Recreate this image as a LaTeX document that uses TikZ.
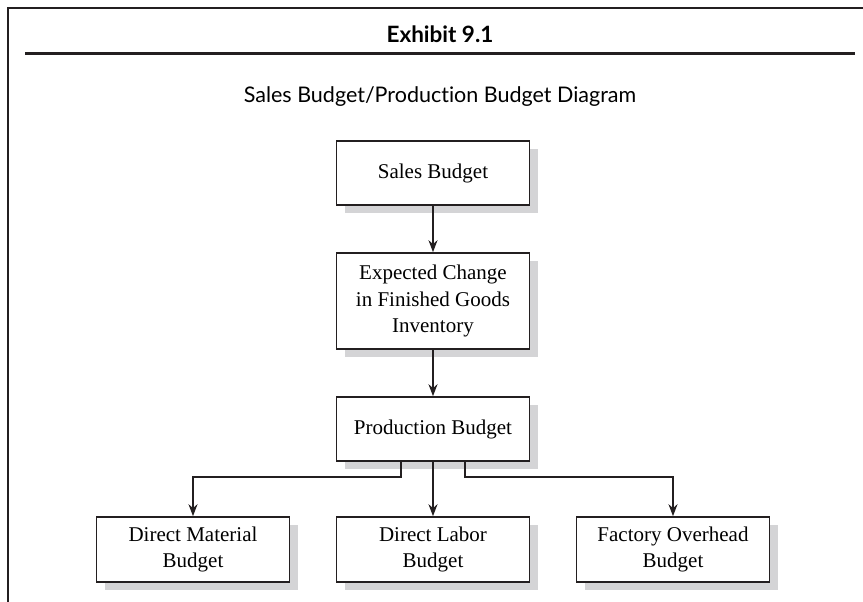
\documentclass[tikz,border=0pt]{standalone}
\usepackage{fontspec}
\setmainfont{Liberation Serif}
\newfontfamily\headfont{Lato}[Ligatures=NoCommon]
\usetikzlibrary{positioning,arrows.meta,shadows}

\definecolor{shadegray}{RGB}{212,212,214}
\definecolor{inkgray}{RGB}{35,31,32}

\tikzset{
  budget/.style={draw=inkgray, line width=1.6pt, fill=white, align=center,
    minimum width=193pt, minimum height=64pt, inner sep=0pt,
    font=\fontsize{21}{26.5}\selectfont,
    drop shadow={shadow xshift=8pt, shadow yshift=-8pt, fill=shadegray, opacity=1}},
  flow/.style={draw=inkgray, line width=1.6pt, -{Stealth[length=12pt,width=9pt]}}
}

\begin{document}
\begin{tikzpicture}[x=1pt, y=-1pt]
\useasboundingbox (0,0) rectangle (863,602);

% Frame and heading
\draw[inkgray, line width=1.4pt] (8,602) -- (8,8) -- (863,8);
\draw[inkgray, line width=3pt] (25,54) -- (855,54);
\node[anchor=base, font=\headfont\bfseries\fontsize{22.5}{26}\selectfont] (exhibit) at (440,42.3) {Exhibit 9.1};
\node[anchor=base, font=\headfont\fontsize{21.5}{25}\selectfont] (title) at (440,102.3) {Sales Budget/Production Budget Diagram};

% Create the main column
\node[budget] (sales) at (433,173) {Sales Budget};
\node[budget, minimum height=96pt] (change) at (433,301) {Expected Change\\in Finished Goods\\Inventory};
\node[budget] (prod) at (433,429) {Production Budget};

% Create the bottom row
\foreach \n/\l [count=\i from 0] in {matl/Direct Material\\Budget, labor/Direct Labor\\Budget, ovhd/Factory Overhead\\Budget}
  \node[budget, minimum height=65pt] (\n) at (193+\i*240,549.5) {\l};

% Connect the boxes
\draw[flow] (sales) -- (change);
\draw[flow] (change) -- (prod);
\draw[flow] (prod) -- (labor);
\draw[flow] ([xshift=-32pt]prod.south) -- ++(0pt,-15pt) -| (matl.north);
\draw[flow] ([xshift=32pt]prod.south) -- ++(0pt,-15pt) -| (ovhd.north);

\end{tikzpicture}
\end{document}
